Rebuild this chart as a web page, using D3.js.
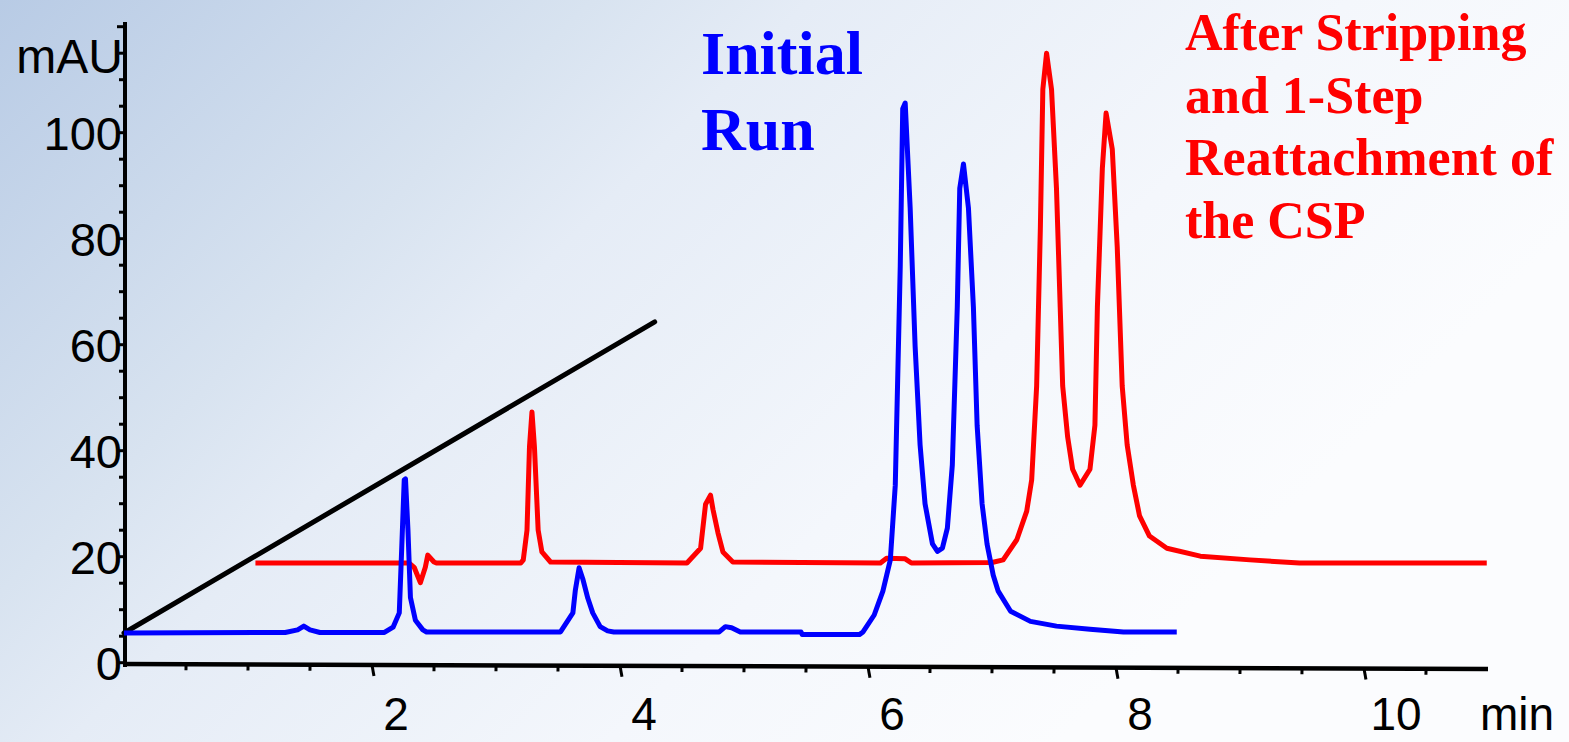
<!DOCTYPE html>
<html>
<head>
<meta charset="utf-8">
<script src="https://cdn.jsdelivr.net/npm/d3@7"></script>
<style>
  html, body { margin: 0; padding: 0; overflow: hidden; background: #fff; }
  svg { display: block; }
</style>
</head>
<body>
<svg id="chart" width="1569" height="742"></svg>
<script>
// ---- data (time in min, signal in mAU) ----
const initialRunTime = [0,1.3,1.4,1.45,1.5,1.58,2.1,2.17,2.22,2.24,2.26,2.27,2.29,2.31,2.35,2.41,2.44,3.52,3.62,3.64,3.67,3.70,3.74,3.78,3.84,3.90,3.95,4.8,4.85,4.9,4.97,5.46,5.47,5.93,5.96,6.05,6.12,6.18,6.22,6.26,6.28,6.30,6.34,6.38,6.42,6.46,6.52,6.56,6.60,6.64,6.68,6.72,6.74,6.77,6.81,6.85,6.88,6.92,6.96,7.01,7.05,7.15,7.31,7.52,7.79,8.06,8.49];
const initialRunSignal = [5.6,5.7,6.2,6.9,6.2,5.7,5.7,6.7,9.4,21.8,34.5,34.7,25,12.3,8.0,6.2,5.8,5.8,9.4,13.7,17.9,15.8,12.2,9.4,6.8,6.0,5.8,5.8,6.8,6.6,5.8,5.8,5.3,5.3,5.8,9.0,13.5,19.4,33.5,74.7,104.5,105.6,85.8,59.7,41.1,30,22.4,21.0,21.6,25.4,37.3,67.1,89.5,94.1,85.8,67.1,44.8,30,22.4,16.5,13.5,9.7,7.8,6.9,6.3,5.8,5.8];

const reattachedTime = [1.06,2.3,2.34,2.39,2.43,2.45,2.5,2.52,3.2,3.22,3.25,3.27,3.29,3.31,3.34,3.37,3.44,4.54,4.65,4.69,4.73,4.75,4.79,4.83,4.91,6.1,6.15,6.3,6.35,7.0,7.09,7.20,7.28,7.32,7.36,7.39,7.41,7.44,7.48,7.52,7.55,7.57,7.61,7.65,7.71,7.79,7.83,7.85,7.89,7.92,7.97,8.01,8.05,8.09,8.14,8.19,8.27,8.41,8.68,9.08,9.48,10.99];
const reattachedSignal = [18.8,18.8,18.0,15.1,18.0,20.3,19.0,18.8,18.8,19.4,25,40.7,47.3,40.7,25,20.9,19.0,18.8,21.6,29.9,31.6,28.9,24.5,20.9,19.0,18.8,19.7,19.6,18.8,18.9,19.4,23.2,28.6,34.5,52.2,82.0,108.2,115.0,108.2,89.5,67.1,52.2,42.6,36.5,33.5,36.5,44.8,67.1,93.3,103.7,96.9,78.4,52.2,41.1,33.5,27.7,23.9,21.6,20.1,19.4,18.8,18.8];

const gradientTime = [0, 4.28];
const gradientSignal = [5.6, 64.3];

const xTickLabels = [2, 4, 6, 8, 10];
const yTickLabels = [0, 20, 40, 60, 80, 100];
const initialLabel = ["Initial", "Run"];
const reattachedLabel = ["After Stripping", "and 1-Step", "Reattachment of", "the CSP"];

// ---- drawing ----
const svg = d3.select("#chart");
const W = 1569, H = 742;

const defs = svg.append("defs");
const grad = defs.append("linearGradient").attr("id", "bg")
  .attr("gradientUnits", "userSpaceOnUse")
  .attr("x1", 0).attr("y1", 0).attr("x2", 900).attr("y2", 900);
[[0, "#b8cbe5"], [0.33, "#d8e3f0"], [0.45, "#e5ecf6"], [0.75, "#f4f7fc"], [1, "#fbfcfe"]]
  .forEach(([o, c]) => grad.append("stop").attr("offset", o).attr("stop-color", c));
svg.append("rect").attr("width", W).attr("height", H).attr("fill", "url(#bg)");

const x = d3.scaleLinear().domain([0, 11]).range([124, 1488]);
const y = d3.scaleLinear().domain([0, 120]).range([662.7, 26.7]);

// y axis
const yAxisG = svg.append("g");
yAxisG.append("line").attr("x1", 125).attr("x2", 125).attr("y1", 22).attr("y2", 667)
  .attr("stroke", "#000").attr("stroke-width", 4);
d3.range(0, 121, 5).forEach(v => {
  yAxisG.append("line").attr("x1", 125).attr("x2", v % 20 === 0 ? 117 : 119)
    .attr("y1", y(v)).attr("y2", y(v)).attr("stroke", "#000").attr("stroke-width", 3);
});
yAxisG.selectAll("text.yl").data(yTickLabels).enter().append("text")
  .attr("class", "yl")
  .attr("x", 122).attr("y", d => y(d) + 17)
  .attr("text-anchor", "end")
  .attr("font-family", "Liberation Sans, Arial, sans-serif")
  .attr("font-size", 47).attr("fill", "#000")
  .text(d => d);
svg.append("text").attr("x", 123).attr("y", 73).attr("text-anchor", "end")
  .attr("font-family", "Liberation Sans, Arial, sans-serif")
  .attr("font-size", 48).attr("fill", "#000").text("mAU");

// x axis (slightly tilted as in the reference)
const xAxisG = svg.append("g").attr("transform", "rotate(0.21,125,664)");
xAxisG.append("line").attr("x1", 123).attr("x2", 1488).attr("y1", 664).attr("y2", 664)
  .attr("stroke", "#000").attr("stroke-width", 4.5);
d3.range(0.5, 10.51, 0.5).forEach(t => {
  const major = Math.abs(t - Math.round(t / 2) * 2) < 1e-6;
  xAxisG.append("line").attr("x1", x(t)).attr("x2", major ? x(t) + 2 : x(t))
    .attr("y1", 664).attr("y2", major ? 675 : 670)
    .attr("stroke", "#000").attr("stroke-width", 3);
});
const xLabelG = svg.append("g");
xLabelG.selectAll("text.xl").data(xTickLabels).enter().append("text")
  .attr("class", "xl")
  .attr("x", d => x(d) + (d >= 10 ? 32 : 24)).attr("y", 730)
  .attr("text-anchor", "middle")
  .attr("font-family", "Liberation Sans, Arial, sans-serif")
  .attr("font-size", 46).attr("fill", "#000")
  .text(d => d);
xLabelG.append("text").attr("x", 1517).attr("y", 730).attr("text-anchor", "middle")
  .attr("font-family", "Liberation Sans, Arial, sans-serif")
  .attr("font-size", 46).attr("fill", "#000").text("min");

// traces
const line = d3.line().x(d => x(d[0])).y(d => y(d[1])).curve(d3.curveLinear);
const zip = (a, b) => a.map((t, i) => [t, b[i]]);

svg.append("path").datum(zip(gradientTime, gradientSignal)).attr("d", line)
  .attr("fill", "none").attr("stroke", "#000").attr("stroke-width", 5).attr("stroke-linecap", "round");
svg.append("path").datum(zip(reattachedTime, reattachedSignal)).attr("d", line)
  .attr("fill", "none").attr("stroke", "#ff0000").attr("stroke-width", 5).attr("stroke-linejoin", "round");
svg.append("path").datum(zip(initialRunTime, initialRunSignal)).attr("d", line)
  .attr("fill", "none").attr("stroke", "#0000ff").attr("stroke-width", 5).attr("stroke-linejoin", "round");

// annotations
svg.selectAll("text.init").data(initialLabel).enter().append("text")
  .attr("class", "init")
  .attr("x", 701).attr("y", (d, i) => 74 + i * 76)
  .attr("font-family", "Liberation Serif, Times New Roman, serif")
  .attr("font-weight", "bold").attr("font-size", 62).attr("fill", "#0000ff")
  .text(d => d);
svg.selectAll("text.reat").data(reattachedLabel).enter().append("text")
  .attr("class", "reat")
  .attr("x", 1185).attr("y", (d, i) => 50 + i * 62.7)
  .attr("font-family", "Liberation Serif, Times New Roman, serif")
  .attr("font-weight", "bold").attr("font-size", 52).attr("fill", "#ff0000")
  .text(d => d);
</script>
</body>
</html>
